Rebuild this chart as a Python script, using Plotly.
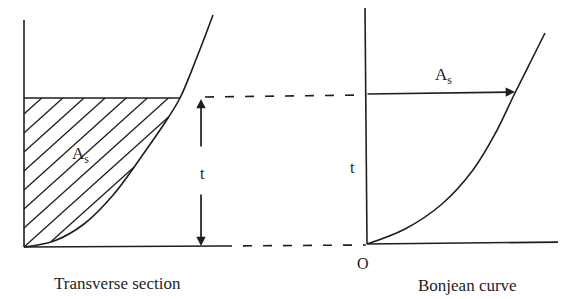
import numpy as np
import plotly.graph_objects as go

# ---- geometry (diagram units = screen-like coordinates, y grows downward) ----
# transverse section curve (half-breadth vs. height)
section_x = [24, 54, 84, 114, 144, 168, 180, 197, 213]
section_y = [247, 241, 224, 194, 153, 118, 98, 57, 15]
# Bonjean curve (sectional area vs. draught)
bonjean_x = [367, 405, 442, 473, 495, 514, 530, 545]
bonjean_y = [244, 229, 204, 170, 134, 95, 63, 33]

waterline_y = 98          # draught level on the section
base_y = 247              # keel line
left_axis_x = 24
hatch_slope = 0.9
hatch_spacing = 19
hatch_index = list(range(-1, 8))

# solid frame lines
frame_x = [[24, 24], [24, 180], [24, 223], [365, 367], [367, 566]]
frame_y = [[20, 247], [98, 98], [247, 246], [6, 244], [244, 242]]
# dashed projection lines
dash_x = [[205, 362], [223, 366]]
dash_y = [[97, 95], [246, 245]]

ink = "#1e1e1e"
serif = "Liberation Serif, Times New Roman, serif"
PAGE_MARGIN = 8  # default body margin of the html page

fig = go.Figure()

for fx, fy in zip(frame_x, frame_y):
    fig.add_trace(go.Scatter(x=fx, y=fy, mode="lines",
                             line=dict(color=ink, width=1.6), hoverinfo="skip"))
for dx, dy in zip(dash_x, dash_y):
    fig.add_trace(go.Scatter(x=dx, y=dy, mode="lines",
                             line=dict(color=ink, width=1.6, dash="9px,11px"),
                             hoverinfo="skip"))

# hatch lines clipped to the area below the waterline
hx, hy = [], []
xs = np.linspace(left_axis_x, max(section_x), 4000)
curve_at = np.interp(xs, section_x, section_y)
for k in hatch_index:
    ys = base_y - hatch_slope * (xs - left_axis_x) - hatch_spacing * k
    ok = (ys <= curve_at) & (ys >= waterline_y) & (ys <= base_y)
    idx = np.where(ok)[0]
    if len(idx) < 2:
        continue
    hx += [xs[idx[0]], xs[idx[-1]], None]
    hy += [ys[idx[0]], ys[idx[-1]], None]
fig.add_trace(go.Scatter(x=hx, y=hy, mode="lines",
                         line=dict(color=ink, width=1.3), hoverinfo="skip"))

fig.add_trace(go.Scatter(x=section_x, y=section_y, mode="lines",
                         line=dict(color=ink, width=1.6, shape="spline", smoothing=1.0),
                         hoverinfo="skip"))
fig.add_trace(go.Scatter(x=bonjean_x, y=bonjean_y, mode="lines",
                         line=dict(color=ink, width=1.6, shape="spline", smoothing=1.0),
                         hoverinfo="skip"))

# arrows
arrows = [
    dict(x=515, y=92, ax=366, ay=94),    # A_s on Bonjean diagram
    dict(x=201, y=99, ax=201, ay=148),   # t upper half
    dict(x=201, y=246, ax=201, ay=193),  # t lower half
]
for a in arrows:
    fig.add_annotation(x=a["x"], y=a["y"], ax=a["ax"], ay=a["ay"],
                       xref="x", yref="y", axref="x", ayref="y",
                       showarrow=True, arrowhead=2, arrowsize=1.1,
                       arrowwidth=1.7, arrowcolor=ink, text="")

labels = [
    ("A<sub>s</sub>", 80, 155, 17),
    ("t", 202, 173, 16),
    ("A<sub>s</sub>", 443, 76, 17),
    ("t", 352, 167, 16),
    ("O", 363, 263, 16),
    ("Transverse section", 117, 283, 17),
    ("Bonjean curve", 467, 285, 17),
]
for txt, x, y, s in labels:
    fig.add_annotation(x=x, y=y, xref="x", yref="y", text=txt, showarrow=False,
                       font=dict(family=serif, size=s, color=ink))

W, H = 566, 299
fig.update_layout(
    width=W - PAGE_MARGIN, height=H - PAGE_MARGIN,
    margin=dict(l=0, r=0, t=0, b=0),
    paper_bgcolor="white", plot_bgcolor="white", showlegend=False,
    xaxis=dict(range=[PAGE_MARGIN, W], visible=False, fixedrange=True),
    yaxis=dict(range=[H, PAGE_MARGIN], visible=False, fixedrange=True),
)
fig.write_html("out.html", config={"displayModeBar": False})
